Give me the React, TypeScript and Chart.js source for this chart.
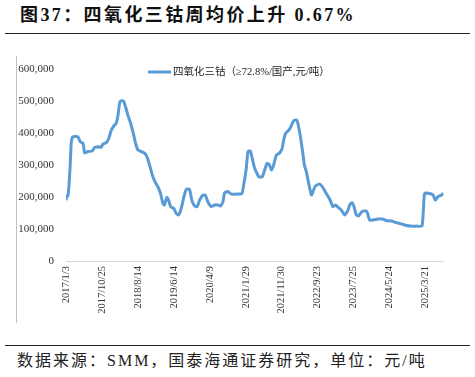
import React, { useEffect, useRef } from "react";
import { Chart, registerables } from "chart.js";

Chart.register(...registerables);

const TITLE = "图37：四氧化三钴周均价上升 0.67%";
const SOURCE = "数据来源：SMM，国泰海通证券研究，单位：元/吨";
const SERIES_NAME = "四氧化三钴（≥72.8%/国产,元/吨）";

const TICK_LABELS = [
  "2017/1/3", "2017/10/25", "2018/8/14", "2019/6/14", "2020/4/9", "2021/1/29",
  "2021/11/30", "2022/9/23", "2023/7/25", "2024/5/24", "2025/3/21",
];
// trading-day index of each labelled date
const TICK_INDEX = [0, 200, 400, 600, 800, 1000, 1200, 1400, 1600, 1800, 2000];

const DAY_INDEX = [
  0, 4, 10, 16, 23, 29, 38, 66, 79, 94, 99, 103, 121, 146, 159, 183, 196, 205, 224, 238,
  252, 270, 279, 288, 298, 303, 320, 331, 344, 357, 372, 387, 400, 419, 437, 450, 465, 480, 493, 511,
  526, 539, 548, 561, 571, 582, 600, 613, 626, 641, 656, 669, 687, 700, 715, 730, 743, 761, 775, 789,
  808, 827, 845, 860, 873, 882, 901, 920, 956, 979, 990, 1003, 1012, 1025, 1036, 1049, 1058, 1073, 1092, 1105,
  1118, 1129, 1144, 1155, 1170, 1188, 1201, 1211, 1222, 1240, 1253, 1266, 1281, 1290, 1304, 1315, 1326, 1337, 1350, 1365,
  1374, 1387, 1411, 1426, 1448, 1467, 1485, 1500, 1513, 1532, 1550, 1569, 1578, 1591, 1602, 1615, 1628, 1646, 1665, 1676,
  1689, 1708, 1735, 1763, 1782, 1810, 1838, 1866, 1894, 1921, 1949, 1980, 1988, 1995, 2023, 2042, 2055, 2069, 2088, 2100,
];

const PRICE = [
  190000, 203000, 203000, 232000, 295000, 368000, 388000, 388000, 373000, 368000, 355000, 338000, 342000, 344000, 355000, 357000, 355000, 365000, 370000, 383000,
  409000, 425000, 430000, 451000, 493000, 500000, 500000, 482000, 456000, 435000, 404000, 368000, 347000, 342000, 337000, 326000, 300000, 269000, 250000, 232000,
  211000, 180000, 175000, 199000, 190000, 170000, 164000, 149000, 144000, 164000, 201000, 224000, 224000, 190000, 172000, 170000, 190000, 206000, 206000, 185000,
  170000, 175000, 175000, 172000, 185000, 213000, 217000, 209000, 209000, 211000, 243000, 290000, 342000, 344000, 321000, 290000, 279000, 263000, 263000, 284000,
  305000, 303000, 284000, 300000, 331000, 338000, 349000, 378000, 399000, 409000, 422000, 438000, 441000, 430000, 388000, 347000, 300000, 279000, 243000, 206000,
  217000, 234000, 241000, 232000, 211000, 193000, 170000, 175000, 168000, 159000, 144000, 159000, 175000, 182000, 170000, 144000, 141000, 154000, 157000, 151000,
  128000, 128000, 131000, 131000, 126000, 125000, 120000, 116000, 111000, 109000, 109000, 109000, 159000, 211000, 211000, 206000, 190000, 201000, 206000, 211000,
];

const Y_TICKS = [0, 100000, 200000, 300000, 400000, 500000, 600000];

const LINE_COLOR = "#5B9BD5";

const legendPlugin = {
  id: "insideLegend",
  afterDraw(chart: any) {
    const ctx = chart.ctx;
    const y = 32;
    ctx.save();
    ctx.strokeStyle = LINE_COLOR;
    ctx.lineWidth = 3;
    ctx.beginPath();
    ctx.moveTo(148, y);
    ctx.lineTo(171, y);
    ctx.stroke();
    ctx.fillStyle = "#222";
    ctx.font = "10.5px 'Liberation Serif', 'Noto Sans CJK SC'";
    ctx.textBaseline = "middle";
    ctx.textAlign = "left";
    ctx.fillText(chart.data.datasets[0].label, 173, y);
    ctx.restore();
  },
};

function LineChart() {
  const ref = useRef<HTMLCanvasElement | null>(null);
  useEffect(() => {
    if (!ref.current) return;
    const chart = new Chart(ref.current, {
      type: "line",
      data: {
        datasets: [
          {
            label: SERIES_NAME,
            data: DAY_INDEX.map((x, i) => ({ x, y: PRICE[i] })),
            borderColor: LINE_COLOR,
            borderWidth: 3,
            pointRadius: 0,
            tension: 0.15,
            fill: false,
          },
        ],
      },
      options: {
        animation: false,
        responsive: false,
        maintainAspectRatio: false,
        layout: { padding: { top: 29, right: 31.5, left: 0, bottom: 0 } },
        plugins: { legend: { display: false }, tooltip: { enabled: false } },
        scales: {
          x: {
            type: "linear",
            min: 0,
            max: 2100,
            bounds: "data",
            afterBuildTicks: (s: any) => {
              s.ticks = TICK_INDEX.map((v) => ({ value: v }));
            },
            afterFit: (s: any) => {
              s.height = 69;
            },
            ticks: {
              autoSkip: false,
              maxRotation: 90,
              minRotation: 90,
              padding: 5,
              color: "#333",
              font: { family: "'Liberation Serif'", size: 10.5 },
              callback: (_v: any, i: number) => TICK_LABELS[i],
            },
            grid: { display: false, drawTicks: false },
            border: { display: true, color: "#d9d9d9", width: 1 },
          },
          y: {
            type: "linear",
            min: 0,
            max: 600000,
            afterBuildTicks: (s: any) => {
              s.ticks = Y_TICKS.map((v) => ({ value: v }));
            },
            afterFit: (s: any) => {
              s.width = 66;
            },
            ticks: {
              padding: 12,
              color: "#333",
              font: { family: "'Liberation Serif'", size: 11 },
              callback: (v: any) => Number(v).toLocaleString("en-US"),
            },
            grid: { display: false, drawTicks: false },
            border: { display: false },
          },
        },
      },
      plugins: [legendPlugin],
    });
    return () => chart.destroy();
  }, []);
  return (
    <canvas
      ref={ref}
      width={475}
      height={290}
      style={{ position: "absolute", left: 0, top: 40, width: 475, height: 290 }}
    />
  );
}

export default function App() {
  return (
    <div
      style={{
        position: "absolute",
        left: 0,
        top: 0,
        width: 475,
        height: 377,
        background: "#fff",
        overflow: "hidden",
        fontFamily: "'Liberation Serif', 'Noto Sans CJK SC', serif",
        color: "#111",
      }}
    >
      <div
        style={{
          position: "absolute",
          left: 20,
          top: 4,
          fontSize: 18,
          lineHeight: "22px",
          fontWeight: "bold",
          letterSpacing: 2.4,
          whiteSpace: "nowrap",
        }}
      >
        {TITLE}
      </div>
      <div style={{ position: "absolute", left: 5, top: 33, width: 465, height: 1, background: "#222" }} />
      <div style={{ position: "absolute", left: 16, top: 56, width: 1, height: 267, background: "#bfbfbf" }} />
      <LineChart />
      <div style={{ position: "absolute", left: 5, top: 345, width: 465, height: 1, background: "#222" }} />
      <div
        style={{
          position: "absolute",
          left: 17,
          top: 352,
          fontSize: 16,
          lineHeight: "18px",
          letterSpacing: 2,
          whiteSpace: "nowrap",
          color: "#222",
        }}
      >
        {SOURCE}
      </div>
    </div>
  );
}
